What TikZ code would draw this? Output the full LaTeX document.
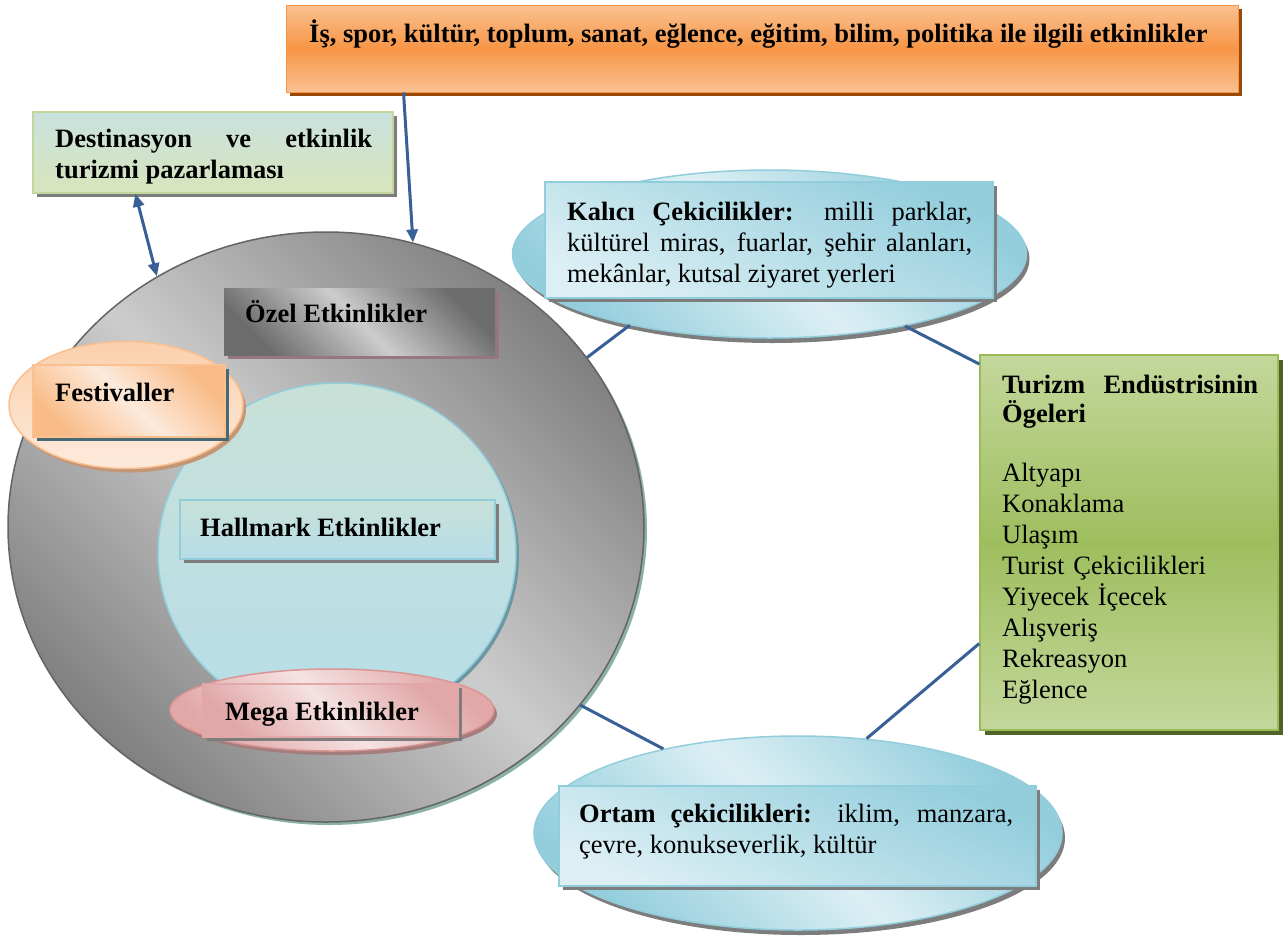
\documentclass[tikz,border=0pt]{standalone}
\usepackage{fontspec}
\setmainfont{Liberation Serif}
\usetikzlibrary{shapes.geometric,arrows.meta,shadows,calc}
\hyphenpenalty=10000
\exhyphenpenalty=10000
\tolerance=9000
\definecolor{conn}{RGB}{56,95,150}
\definecolor{metD}{RGB}{128,128,128}
\definecolor{metL}{RGB}{204,204,204}
\definecolor{metDD}{RGB}{108,108,108}
\definecolor{bigborder}{RGB}{100,100,100}
\definecolor{bigsh}{RGB}{140,178,168}
\definecolor{blueb}{RGB}{146,205,220}
\definecolor{hallA}{RGB}{200,225,216}
\definecolor{hallB}{RGB}{183,221,232}
\definecolor{innsh}{RGB}{110,150,160}
\definecolor{gsh}{RGB}{125,125,125}
\definecolor{pinksh}{RGB}{150,118,130}
\definecolor{peachb}{RGB}{250,192,144}
\definecolor{peachA}{RGB}{251,208,172}
\definecolor{peachL}{RGB}{253,234,220}
\definecolor{peachD}{RGB}{249,188,136}
\definecolor{festsh}{RGB}{196,150,120}
\definecolor{tealsh}{RGB}{70,105,115}
\definecolor{roseb}{RGB}{217,150,148}
\definecolor{roseD}{RGB}{226,168,168}
\definecolor{roseL}{RGB}{245,226,226}
\definecolor{rosesh}{RGB}{165,125,125}
\definecolor{skyL}{RGB}{220,239,244}
\definecolor{skyD}{RGB}{148,206,221}
\definecolor{orA}{RGB}{250,193,145}
\definecolor{orB}{RGB}{247,150,70}
\definecolor{orsh}{RGB}{152,72,7}
\definecolor{destA}{RGB}{201,226,222}
\definecolor{destB}{RGB}{216,228,188}
\definecolor{destb}{RGB}{195,214,155}
\definecolor{grA}{RGB}{196,215,156}
\definecolor{grB}{RGB}{158,190,94}
\definecolor{grb}{RGB}{155,187,89}
\definecolor{grsh}{RGB}{79,98,40}
\begin{document}
\begin{tikzpicture}[x=1pt,y=-1pt,
  boxs/.style={rectangle, inner sep=0pt, line width=1.5pt},
  ells/.style={ellipse, inner sep=0pt, line width=1.5pt},
  shd/.style={general shadow={fill=#1, shadow xshift=4pt, shadow yshift=-4pt}},
  band/.style n args={2}{top color=#1, bottom color=#1, middle color=#2, shading angle=-45},
  txt/.style={inner sep=0pt, anchor=base west, font=\fontsize{26.5}{31}\selectfont},
  btxt/.style={txt, font=\fontsize{26.5}{31}\selectfont\bfseries},
  conline/.style={draw=conn, line width=3pt},
  tip/.style={-{Triangle[length=13pt,width=11pt]}},
  dtip/.style={{Triangle[length=13pt,width=11pt]}-{Triangle[length=13pt,width=11pt]}}
]
\useasboundingbox (0,0) rectangle (1285,937);

% top box
\node[boxs, minimum width=952pt, minimum height=87pt, draw=orB, line width=1pt,
  top color=orA, bottom color=orA, middle color=orB, shd=orsh] (topbox) at (762,48.5) {};
% destination box
\node[boxs, minimum width=360pt, minimum height=81pt, draw=destb,
  top color=destA, bottom color=destB, shd=gsh] (dest) at (213,152.5) {};

% big ellipse
\node[ells, minimum width=636pt, minimum height=590pt, draw=bigborder,
  band={metD}{metL},
  general shadow={fill=bigsh, shadow xshift=3pt, shadow yshift=-3pt}] (big) at (326,527) {};
% inner ellipse
\node[ells, minimum width=358pt, minimum height=340pt, draw=blueb,
  top color=hallA, bottom color=hallB,
  general shadow={fill=innsh, shadow xshift=3pt, shadow yshift=-3pt}] (inner) at (337,553) {};
% Ozel
\node[boxs, minimum width=271pt, minimum height=67pt,
  band={metDD}{metL}, shd=pinksh] (ozel) at (359.5,321.5) {};
% Festival
\node[ells, minimum width=234pt, minimum height=127pt, draw=peachb,
  top color=peachA, bottom color=peachL,
  general shadow={fill=festsh, shadow xshift=3pt, shadow yshift=-4pt}] (festell) at (126,405) {};
\node[boxs, minimum width=192pt, minimum height=72pt, draw=peachb,
  band={peachD}{peachL}, shd=tealsh] (festbox) at (129,401) {};
% Hallmark
\node[boxs, minimum width=315pt, minimum height=59pt, draw=blueb,
  top color=hallA, bottom color=hallB, shd=gsh] (hall) at (337.5,529.5) {};
% Mega
\node[ells, minimum width=324pt, minimum height=82pt, draw=roseb,
  band={roseD}{roseL},
  general shadow={fill=rosesh, shadow xshift=3pt, shadow yshift=-4pt}] (megaell) at (332,710) {};
\node[boxs, minimum width=255pt, minimum height=53pt, draw=roseD,
  band={roseD}{roseL}, shd=gsh] (megabox) at (330.5,710.5) {};

% Kalici
\node[ells, minimum width=514pt, minimum height=168pt, draw=blueb,
  band={skyD}{skyL},
  general shadow={fill=gsh, shadow xshift=3pt, shadow yshift=-5pt}] (kal) at (769.5,254) {};
\node[boxs, minimum width=448pt, minimum height=116pt, draw=blueb,
  top color=skyD, bottom color=skyL, shading angle=-25, shd=gsh] (kalbox) at (769,240) {};
% Ortam
\node[ells, minimum width=528pt, minimum height=194pt, draw=blueb,
  band={skyD}{skyL},
  general shadow={fill=gsh, shadow xshift=3pt, shadow yshift=-5pt}] (ort) at (798,833) {};
\node[boxs, minimum width=477pt, minimum height=100pt, draw=blueb,
  top color=skyD, bottom color=skyL, shading angle=-25, shd=gsh] (ortbox) at (797.5,836) {};
% Green
\node[boxs, minimum width=298pt, minimum height=375pt, draw=grb,
  top color=grA, bottom color=grA, middle color=grB,
  general shadow={fill=grsh, shadow xshift=5pt, shadow yshift=-5pt}] (green) at (1129,542.5) {};

% texts
\node[btxt] (ttop) at (309,42) {İş, spor, kültür, toplum, sanat, eğlence, eğitim, bilim, politika ile ilgili etkinlikler};
\node[btxt, text width=317pt, align=justify] (tdest) at (55,147) {Destinasyon ve etkinlik turizmi pazarlaması};
\node[btxt] (tozel) at (245,322) {Özel Etkinlikler};
\node[btxt] (tfest) at (55,401) {Festivaller};
\node[btxt] (thall) at (200,536) {Hallmark Etkinlikler};
\node[btxt] (tmega) at (225,720) {Mega Etkinlikler};
\node[txt, text width=405pt, align=justify] (tkal) at (567,220) {\textbf{Kalıcı Çekicilikler:} milli parklar, kültürel miras, fuarlar, şehir alanları, mekânlar, kutsal ziyaret yerleri};
\node[txt, text width=434pt, align=justify] (tort) at (579,822) {\textbf{Ortam çekicilikleri:} iklim, manzara, çevre, konukseverlik, kültür};
\node[btxt, text width=256pt, align=justify, font=\fontsize{26.5}{29}\selectfont\bfseries] (tgreenh) at (1002,393) {Turizm Endüstrisinin Ögeleri};
\node[txt, text width=260pt, align=left] (tgreenl) at (1002,481) {Altyapı\\Konaklama\\Ulaşım\\Turist Çekicilikleri\\Yiyecek İçecek\\Alışveriş\\Rekreasyon\\Eğlence};

% connectors
\draw[conline, tip] (topbox.187.3) -- (big.73.5);
\draw[conline, dtip] (dest.208.4) -- (big.124);
\draw[conline] (big.33.4) -- (kal.207.3);
\draw[conline] (kal.332.7) -- (green.130.3);
\draw[conline] (big.325) -- (ort.148.7);
\draw[conline] (ort.54.5) -- (green.214.7);
\end{tikzpicture}
\end{document}
